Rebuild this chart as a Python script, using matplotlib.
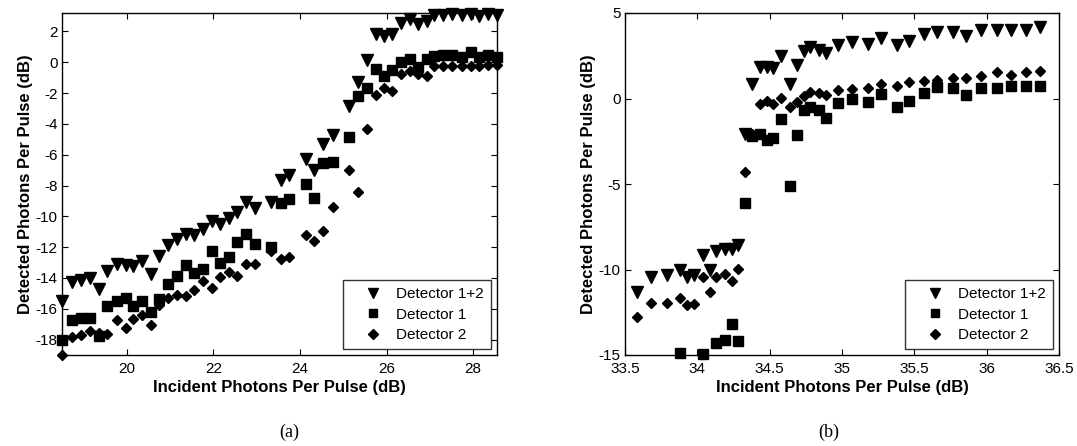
import numpy as np
import matplotlib
matplotlib.use("Agg")
import matplotlib.pyplot as plt

plt.rcParams['font.family'] = ['Liberation Sans', 'DejaVu Sans']
plt.rcParams['axes.unicode_minus'] = False

nan = np.nan

# ---------------- Panel (a) data ----------------
x_a = [18.50, 18.72, 18.93, 19.14, 19.35, 19.54, 19.76, 19.97, 20.14, 20.35,
       20.55, 20.73, 20.94, 21.15, 21.36, 21.56, 21.76, 21.96, 22.15, 22.35,
       22.55, 22.75, 22.95, 23.33, 23.55, 23.75, 24.14, 24.33, 24.52, 24.75,
       25.12, 25.34, 25.55, 25.75, 25.94, 26.13, 26.34, 26.53, 26.73, 26.93,
       27.10, 27.30, 27.52, 27.73, 27.94, 28.14, 28.35, 28.55]
det12_a = [-15.5, -14.26, -14.1, -14.0, -14.7, -13.57, -13.07, -13.14, -13.25, -12.9,
           -13.72, -12.6, -11.84, -11.45, -11.12, -11.19, -10.8, -10.3, -10.47, -10.09,
           -9.72, -9.05, -9.44, -9.1, -7.62, -7.34, -6.25, -6.99, -5.28, -4.74,
           -2.82, -1.28, 0.17, 1.86, 1.69, 1.86, 2.55, 2.84, 2.47, 2.68,
           3.05, 3.05, 3.12, 3.05, 3.16, 2.99, 3.12, 3.05]
det1_a = [-18.05, -16.71, -16.58, -16.58, -17.79, -15.84, -15.52, -15.3, -15.84, -15.52,
          -16.21, -15.35, -14.37, -13.9, -13.18, -13.66, -13.44, -12.27, -13.05, -12.64,
          -11.69, -11.17, -11.82, -12.0, -9.15, -8.9, -7.9, -8.81, -6.56, -6.49,
          -4.85, -2.19, -1.67, -0.45, -0.91, -0.48, 0.02, 0.24, -0.3, 0.19,
          0.39, 0.5, 0.5, 0.35, 0.67, 0.35, 0.5, 0.35]
det2_a = [-19.0, -17.83, -17.73, -17.45, -17.6, -17.62, -16.75, -17.25, -16.65, -16.43,
          -17.08, -15.78, -15.3, -15.13, -15.2, -14.8, -14.2, -14.63, -13.96, -13.6,
          -13.9, -13.07, -13.07, -12.25, -12.75, -12.62, -11.23, -11.58, -10.93, -9.39,
          -6.96, -8.44, -4.31, -2.14, -1.64, -1.86, -0.74, -0.56, -0.74, -0.91,
          -0.26, -0.26, -0.26, -0.26, -0.26, -0.26, -0.2, -0.2]

# ---------------- Panel (b) data ----------------
x_b = [33.58, 33.68, 33.79, 33.88, 33.93, 33.98, 34.04, 34.09, 34.13, 34.19,
       34.24, 34.28, 34.33, 34.38, 34.43, 34.48, 34.52, 34.58, 34.64, 34.69,
       34.74, 34.78, 34.84, 34.89, 34.97, 35.07, 35.18, 35.27, 35.38, 35.46,
       35.57, 35.66, 35.77, 35.86, 35.96, 36.07, 36.17, 36.27, 36.37]
det12_b = [-11.33, -10.41, -10.35, -10.02, -10.45, -10.35, -9.18, -10.02, -8.93, -8.79,
           -8.79, -8.56, -2.1, 0.86, 1.87, 1.83, 1.77, 2.46, 0.82, 1.93,
           2.77, 3.0, 2.81, 2.65, 3.1, 3.29, 3.2, 3.55, 3.1, 3.39,
           3.78, 3.88, 3.88, 3.68, 4.02, 4.02, 4.02, 4.02, 4.21]
det1_b = [nan, nan, nan, -14.9, nan, nan, -14.93, nan, -14.3, -14.1,
          -13.2, -14.2, -6.12, -2.22, -2.1, -2.42, -2.3, -1.19, -5.09, -2.16,
          -0.66, -0.47, -0.66, -1.13, -0.27, -0.02, -0.21, 0.27, -0.51, -0.12,
          0.31, 0.66, 0.63, 0.22, 0.6, 0.6, 0.76, 0.76, 0.76]
det2_b = [-12.79, -11.97, -11.97, -11.68, -12.1, -12.0, -10.41, -11.33, -10.41, -10.29,
          -10.68, -9.96, -4.27, -2.1, -0.31, -0.12, -0.31, 0.04, -0.47, -0.18,
          0.12, 0.37, 0.31, 0.23, 0.47, 0.57, 0.63, 0.82, 0.76, 0.95,
          1.05, 1.11, 1.2, 1.2, 1.34, 1.54, 1.4, 1.54, 1.6]

labels = ["Detector 1+2", "Detector 1", "Detector 2"]
xlabel = "Incident Photons Per Pulse (dB)"
ylabel = "Detected Photons Per Pulse (dB)"

fig = plt.figure(figsize=(10.77, 4.46), dpi=100)
W, H = 1077, 446

def make_axes(l, r, t, b):
    return fig.add_axes([l / W, 1 - b / H, (r - l) / W, (b - t) / H])

ax_a = make_axes(62, 497, 13, 355)
ax_b = make_axes(625, 1059, 13, 355)

def draw(ax, x, s12, s1, s2):
    ax.plot(x, s12, linestyle='none', marker='v', ms=8.5, color='black',
            mec='black', label=labels[0], clip_on=False)
    ax.plot(x, s1, linestyle='none', marker='s', ms=7, color='black',
            mec='black', label=labels[1], clip_on=False)
    ax.plot(x, s2, linestyle='none', marker='D', ms=5.5, color='black',
            mec='black', label=labels[2], clip_on=False)
    ax.tick_params(direction='in', top=True, right=True, length=4,
                   width=0.8, labelsize=11)
    ax.tick_params(axis='x', pad=5)
    ax.tick_params(axis='y', pad=3)
    for sp in ax.spines.values():
        sp.set_linewidth(1.0)
    ax.set_xlabel(xlabel, fontsize=12, fontweight='bold', labelpad=3)
    ax.set_ylabel(ylabel, fontsize=12, fontweight='bold', labelpad=2)
    leg = ax.legend(loc='lower right', frameon=True, fancybox=False,
                    fontsize=11, handlelength=3.0, handletextpad=0.05,
                    borderpad=0.45, labelspacing=0.42, borderaxespad=0.4,
                    numpoints=1, markerscale=0.85)
    leg.get_frame().set_edgecolor('black')
    leg.get_frame().set_linewidth(1.0)
    leg.set_zorder(5)

draw(ax_a, x_a, det12_a, det1_a, det2_a)
ax_a.set_xlim(18.5, 28.55)
ax_a.set_ylim(-19.0, 3.2)
ax_a.set_xticks([20, 22, 24, 26, 28])
ax_a.set_yticks(np.arange(-18, 3, 2))

draw(ax_b, x_b, det12_b, det1_b, det2_b)
ax_b.set_xlim(33.5, 36.5)
ax_b.set_ylim(-15, 5)
ax_b.set_xticks([33.5, 34, 34.5, 35, 35.5, 36, 36.5])
ax_b.set_xticklabels(["33.5", "34", "34.5", "35", "35.5", "36", "36.5"])
ax_b.set_yticks([-15, -10, -5, 0, 5])

fig.text(289 / W, 1 - 432 / H, "(a)", family=['Liberation Serif', 'DejaVu Serif'],
         fontsize=13, ha='center', va='center')
fig.text(829 / W, 1 - 432 / H, "(b)", family=['Liberation Serif', 'DejaVu Serif'],
         fontsize=13, ha='center', va='center')

fig.savefig("out.png", dpi=100, facecolor='white')
